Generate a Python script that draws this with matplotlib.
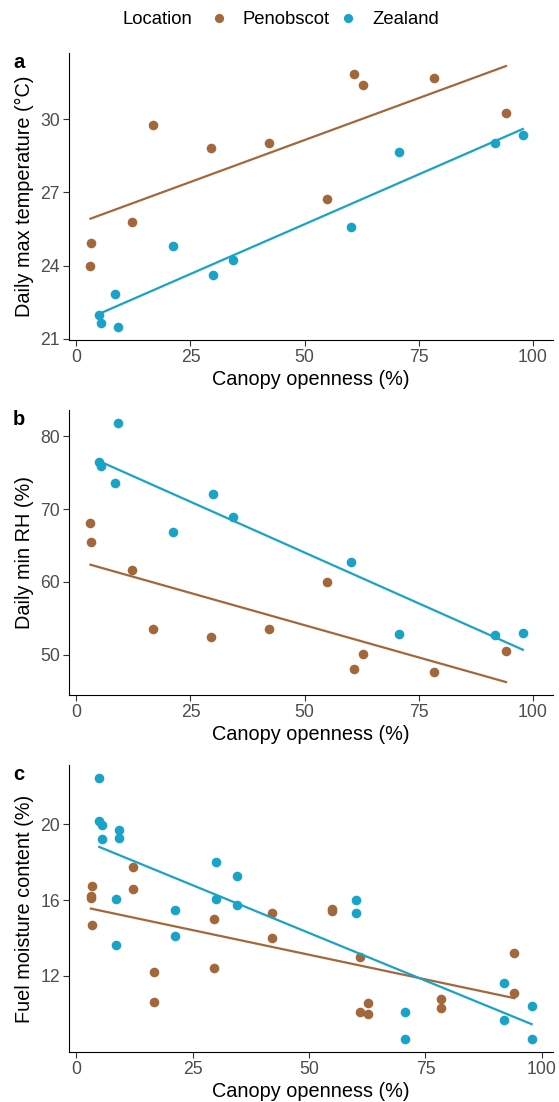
import matplotlib
matplotlib.use("Agg")
import matplotlib.pyplot as plt
from matplotlib.lines import Line2D

plt.rcParams.update({
    "font.family": ["Liberation Sans", "DejaVu Sans"],
    "axes.spines.top": False, "axes.spines.right": False,
    "axes.linewidth": 0.8, "axes.edgecolor": "black",
})
BROWN, CYAN = "#A2683B", "#19A3C7"
W, H = 559, 1102

# site canopy openness (%)
pen_open = [3.1, 3.3, 12.25, 16.7, 29.6, 42.1, 54.9, 60.9, 62.7, 78.3, 94.1]
zea_open = [4.9, 5.5, 8.4, 9.1, 21.1, 29.9, 34.4, 60.1, 70.7, 91.8, 97.8]

# daily max temperature (C)
pen_tmax = [24.0, 24.92, 25.77, 29.77, 28.82, 29.03, 26.74, 31.85, 31.41, 31.68, 30.25]
zea_tmax = [21.97, 21.66, 22.82, 21.48, 24.81, 23.63, 24.21, 25.58, 28.64, 29.01, 29.36]

# daily min relative humidity (%)
pen_rh = [68.05, 65.5, 61.6, 53.55, 52.45, 53.55, 59.95, 48.05, 50.05, 47.7, 50.5]
zea_rh = [76.5, 75.95, 73.6, 81.8, 66.9, 72.1, 68.95, 62.7, 52.9, 52.7, 53.0]

# fuel moisture content (%), two samples per site
pen_fmc_1 = [16.2, 16.73, 17.75, 12.23, 15.01, 15.31, 15.55, 12.99, 10.58, 10.76, 13.20]
pen_fmc_2 = [16.1, 14.67, 16.59, 10.62, 12.41, 14.0, 15.4, 10.12, 9.98, 10.32, 11.11]
zea_fmc_1 = [22.43, 19.96, 16.06, 19.70, 15.45, 18.0, 17.29, 15.99, 10.09, 11.63, 10.40]
zea_fmc_2 = [20.18, 19.21, 13.64, 19.26, 14.08, 16.05, 15.75, 15.33, 8.70, 9.70, 8.68]

# linear fit values at the lowest and highest openness of each location
pen_fit_tmax, zea_fit_tmax = [25.92, 32.18], [22.01, 29.6]
pen_fit_rh, zea_fit_rh = [62.36, 46.27], [76.6, 50.7]
pen_fit_fmc, zea_fit_fmc = [15.55, 10.83], [18.80, 9.46]

panels = [
    dict(tag="a", ylab="Daily max temperature (\u00b0C)", yticks=[21, 24, 27, 30],
         xlim=(-1.6, 104.4), top=53, bottom=340,
         pen=[pen_tmax], zea=[zea_tmax], pfit=pen_fit_tmax, zfit=zea_fit_tmax),
    dict(tag="b", ylab="Daily min RH (%)", yticks=[50, 60, 70, 80],
         xlim=(-1.6, 104.4), top=410, bottom=695,
         pen=[pen_rh], zea=[zea_rh], pfit=pen_fit_rh, zfit=zea_fit_rh),
    dict(tag="c", ylab="Fuel moisture content (%)", yticks=[12, 16, 20],
         xlim=(-1.6, 102.4), top=765, bottom=1052,
         pen=[pen_fmc_1, pen_fmc_2], zea=[zea_fmc_1, zea_fmc_2],
         pfit=pen_fit_fmc, zfit=zea_fit_fmc),
]

fig = plt.figure(figsize=(W / 100, H / 100), dpi=100)
left, right = 69, 553

for p in panels:
    ax = fig.add_axes([left / W, 1 - p["bottom"] / H,
                       (right - left) / W, (p["bottom"] - p["top"]) / H])
    for ys in p["pen"]:
        ax.scatter(pen_open, ys, s=48, color=BROWN, lw=0, zorder=3)
    for ys in p["zea"]:
        ax.scatter(zea_open, ys, s=48, color=CYAN, lw=0, zorder=3)
    ax.plot([min(pen_open), max(pen_open)], p["pfit"], color=BROWN, lw=1.6, zorder=4)
    ax.plot([min(zea_open), max(zea_open)], p["zfit"], color=CYAN, lw=1.6, zorder=4)

    vals = [v for ys in p["pen"] + p["zea"] for v in ys] + p["pfit"] + p["zfit"]
    lo, hi = min(vals), max(vals)
    pad = 0.05 * (hi - lo)
    ax.set_ylim(lo - pad, hi + pad)
    ax.set_xlim(*p["xlim"])
    ax.set_xticks([0, 25, 50, 75, 100])
    ax.set_yticks(p["yticks"])
    ax.tick_params(length=4.0, width=0.8, color="#333333", labelcolor="#4D4D4D",
                   labelsize=12.7, pad=2.5)
    ax.set_xlabel("Canopy openness (%)", fontsize=14.3, labelpad=3)
    ax.set_ylabel(p["ylab"], fontsize=14.3)
    ax.yaxis.set_label_coords((24.5 - left) / (right - left), 0.5)
    ax.yaxis.label.set_va("center")
    fig.text(13 / W, 1 - (p["top"] + 15) / H, p["tag"], fontsize=14.5,
             fontweight="bold", ha="left", va="baseline")

# legend across the top
fig.text(123 / W, 1 - 20 / H, "Location", fontsize=13.3, ha="left", va="center")
handles = [Line2D([], [], ls="", marker="o", ms=6.6, color=BROWN, mew=0),
           Line2D([], [], ls="", marker="o", ms=6.6, color=CYAN, mew=0)]
fig.legend(handles, ["Penobscot", "Zealand"], ncol=2, frameon=False, fontsize=13.3,
           loc="center left", bbox_to_anchor=(209.75 / W, 1 - 20 / H),
           borderpad=0, borderaxespad=0, handlelength=1.0, handletextpad=0.8,
           columnspacing=0.47)

fig.savefig("out.png", dpi=100)
